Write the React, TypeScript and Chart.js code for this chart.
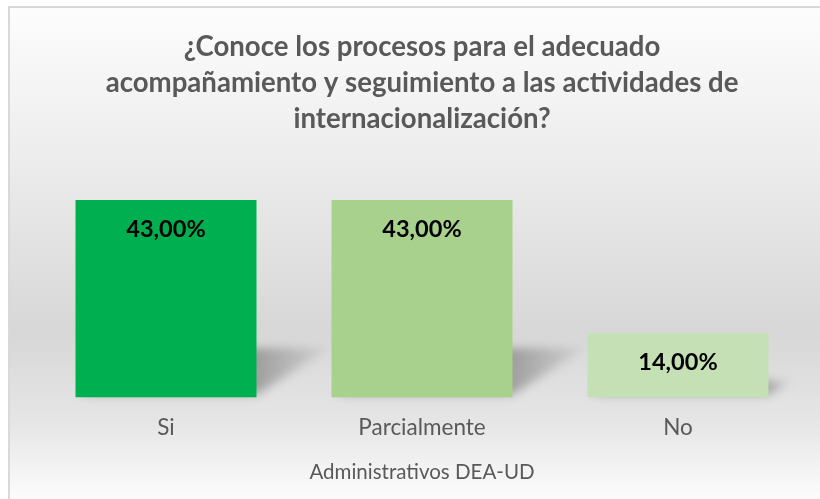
import React, { useEffect, useRef } from 'react';
import { Chart, registerables } from 'chart.js';

Chart.register(...registerables);

const categories = ['Si', 'Parcialmente', 'No'];
const values = [43, 43, 14];
const valueLabels = ['43,00%', '43,00%', '14,00%'];
const barColors = ['#00B050', '#A9D18E', '#C5E0B4'];
const titleLines = [
  '¿Conoce los procesos para el adecuado',
  'acompañamiento y seguimiento a las actividades de',
  'internacionalización?',
];
const axisTitle = 'Administrativos DEA-UD';

const FONT = 'Lato, "Open Sans", sans-serif';

const backgroundPlugin = {
  id: 'bgPlugin',
  beforeDraw(chart: any) {
    const ctx = chart.ctx;
    const W = chart.width;
    const H = chart.height;
    ctx.save();
    ctx.fillStyle = '#ffffff';
    ctx.fillRect(0, 0, W, H);
    const g = ctx.createLinearGradient(0, 7, 0, H);
    g.addColorStop(0, '#fdfdfd');
    g.addColorStop(0.3, '#ededed');
    g.addColorStop(0.66, '#d7d7d7');
    g.addColorStop(0.85, '#e6e6e6');
    g.addColorStop(1, '#fcfcfc');
    ctx.fillStyle = g;
    ctx.fillRect(9, 7, W - 9, H - 7);
    ctx.strokeStyle = '#d9d9d9';
    ctx.lineWidth = 2;
    ctx.beginPath();
    ctx.moveTo(9, H + 2);
    ctx.lineTo(9, 7);
    ctx.lineTo(W + 2, 7);
    ctx.stroke();
    ctx.restore();
  },
};

const shadowPlugin = {
  id: 'shadowPlugin',
  beforeDatasetsDraw(chart: any) {
    const ctx = chart.ctx;
    const meta = chart.getDatasetMeta(0);
    meta.data.forEach((bar: any) => {
      const p = bar.getProps(['x', 'y', 'base', 'width'], true);
      const xl = p.x - p.width / 2;
      const xr = p.x + p.width / 2;
      const h = p.base - p.y;
      const dx = h * 0.37;
      const dy = h * 0.25;
      ctx.save();
      ctx.filter = 'blur(5px)';
      const g = ctx.createLinearGradient(xr, 0, xr + dx, 0);
      g.addColorStop(0, 'rgba(0,0,0,0.28)');
      g.addColorStop(1, 'rgba(0,0,0,0.03)');
      ctx.fillStyle = g;
      ctx.beginPath();
      ctx.moveTo(xl + 4, p.base - 3);
      ctx.lineTo(xr, p.base - 3);
      ctx.lineTo(xr + dx, p.base - dy);
      ctx.lineTo(xl + dx, p.base - dy);
      ctx.closePath();
      ctx.fill();
      ctx.restore();
    });
  },
};

const labelPlugin = {
  id: 'labelPlugin',
  afterDatasetsDraw(chart: any) {
    const ctx = chart.ctx;
    const meta = chart.getDatasetMeta(0);
    ctx.save();
    ctx.font = `bold 23.5px ${FONT}`;
    ctx.fillStyle = '#000000';
    ctx.textAlign = 'center';
    ctx.textBaseline = 'middle';
    meta.data.forEach((bar: any, i: number) => {
      const p = bar.getProps(['x', 'y'], true);
      ctx.fillText(valueLabels[i], p.x, p.y + 29);
    });
    ctx.restore();
  },
};

export default function App() {
  const ref = useRef<HTMLCanvasElement | null>(null);
  useEffect(() => {
    if (!ref.current) return;
    const chart = new Chart(ref.current, {
      type: 'bar',
      data: {
        labels: categories,
        datasets: [
          {
            data: values,
            backgroundColor: barColors,
            borderWidth: 0,
            categoryPercentage: 1,
            barPercentage: 0.707,
          },
        ],
      },
      options: {
        responsive: false,
        animation: false,
        devicePixelRatio: 1,
        layout: { padding: { left: 38, right: 14, top: 0, bottom: 14 } },
        plugins: {
          legend: { display: false },
          tooltip: { enabled: false },
          title: {
            display: true,
            text: titleLines,
            color: '#595959',
            font: { family: FONT, size: 27.6, weight: 'bold', lineHeight: 36 / 27.6 },
            padding: { top: 29, bottom: 31 },
          },
        },
        scales: {
          x: {
            grid: { display: false, drawTicks: false },
            border: { display: false },
            ticks: {
              color: '#595959',
              font: { family: FONT, size: 22.5 },
              padding: 17,
            },
            title: {
              display: true,
              text: axisTitle,
              color: '#595959',
              font: { family: FONT, size: 20.5 },
              padding: { top: 2, bottom: 0 },
            },
          },
          y: {
            display: false,
            min: 0,
            max: 50,
          },
        },
      },
      plugins: [backgroundPlugin, shadowPlugin, labelPlugin],
    });
    return () => chart.destroy();
  }, []);
  return (
    <div style={{ position: 'absolute', left: 0, top: 0, width: 820, height: 499 }}>
      <canvas ref={ref} width={820} height={499} style={{ display: 'block', width: 820, height: 499 }} />
    </div>
  );
}
